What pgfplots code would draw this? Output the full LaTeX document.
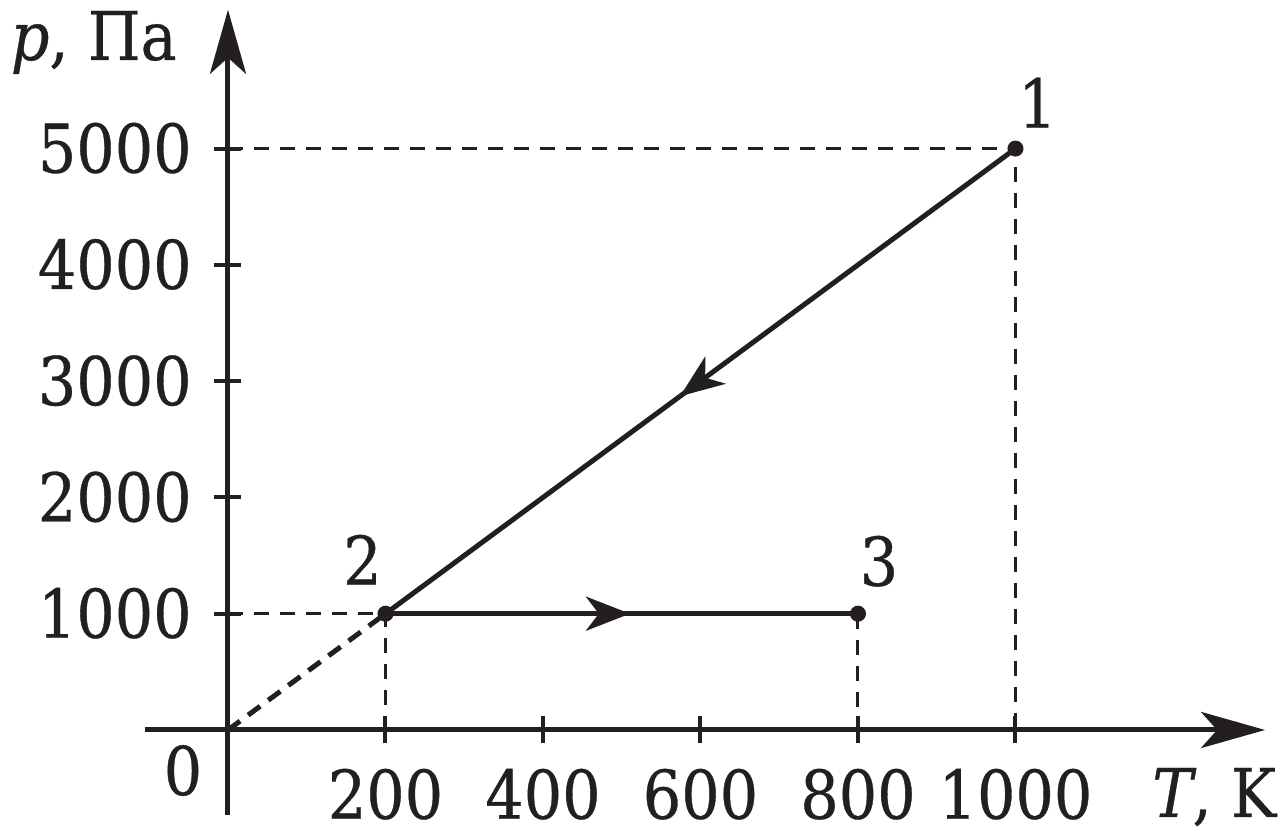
\documentclass[border=0pt]{standalone}
\usepackage{fontspec}
\setmainfont{DejaVu Serif Condensed}[FakeBold=0.5]
\usepackage{pgfplots}
\pgfplotsset{compat=1.18}
\usetikzlibrary{arrows.meta,decorations.markings}
\definecolor{ink}{RGB}{35,31,32}
\begin{document}
\fontsize{16.8}{20}\selectfont
\begin{tikzpicture}
\useasboundingbox (-57pt,-25pt) rectangle (264pt,182.5pt);
\begin{axis}[
  anchor=origin, at={(0pt,0pt)},
  x=0.196875pt, y=0.0290625pt,
  xmin=-105, xmax=1317, ymin=-731, ymax=6194,
  axis lines=middle,
  clip=false,
  axis line style={line width=1.25pt, color=ink, -{Stealth[length=16pt,width=9pt,inset=4pt]}},
  xtick={200,400,600,800,1000},
  ytick={1000,2000,3000,4000,5000},
  xticklabels={200,400,600,800,1000},
  yticklabels={1000,2000,3000,4000,5000},
  tick align=center,
  major tick length=6.75pt,
  every tick/.style={line width=1pt, color=ink},
  xticklabel style={anchor=base, yshift=-18.8pt, inner sep=0pt, text=ink},
  yticklabel style={anchor=base east, xshift=-5.5pt, yshift=-6pt, inner sep=0pt, text=ink},
]
% dashed guides
\addplot[ink, line width=0.75pt, dash pattern=on 3.75pt off 2.75pt] coordinates {(0,5000) (1000,5000) (1000,0)};
\addplot[ink, line width=0.75pt, dash pattern=on 3.75pt off 2.75pt] coordinates {(0,1000) (200,1000) (200,0)};
\addplot[ink, line width=0.75pt, dash pattern=on 3.75pt off 2.75pt] coordinates {(800,1000) (800,0)};
\addplot[ink, line width=1.25pt, dash pattern=on 3.75pt off 2.5pt] coordinates {(0,0) (200,1000)};
% process 1-2
\addplot[ink, line width=1.25pt, postaction={decorate},
  decoration={markings, mark=at position 0.5325 with {\arrow{Stealth[length=11pt,width=8.5pt,inset=3.2pt]}}}]
  coordinates {(1000,5000) (200,1000)};
% process 2-3
\addplot[ink, line width=1.25pt, postaction={decorate},
  decoration={markings, mark=at position 0.5175 with {\arrow{Stealth[length=11pt,width=8.5pt,inset=3.2pt]}}}]
  coordinates {(200,1000) (800,1000)};
% points
\addplot[only marks, mark=*, mark size=1.8pt, ink, mark options={fill=ink, draw=ink}]
  coordinates {(1000,5000) (200,1000) (800,1000)};
% labels
\node[anchor=base, inner sep=0pt, xshift=5.5pt, yshift=5.25pt, text=ink] at (axis cs:1000,5000) {1};
\node[anchor=base, inner sep=0pt, xshift=-5.75pt, yshift=7.25pt, text=ink] at (axis cs:200,1000) {2};
\node[anchor=base, inner sep=0pt, xshift=5.25pt, yshift=7pt, text=ink] at (axis cs:800,1000) {3};
\node[anchor=base east, inner sep=0pt, xshift=-6.25pt, yshift=-16.25pt, text=ink] at (axis cs:0,0) {0};
\node[anchor=base west, inner sep=0pt, xshift=-54.5pt, yshift=167.5pt, text=ink] at (axis cs:0,0) {\textit{p}, Па};
\node[anchor=base east, inner sep=0pt, xshift=262.25pt, yshift=-21.75pt, text=ink] at (axis cs:0,0) {\textit{T}, K};
\end{axis}
\end{tikzpicture}
\end{document}
